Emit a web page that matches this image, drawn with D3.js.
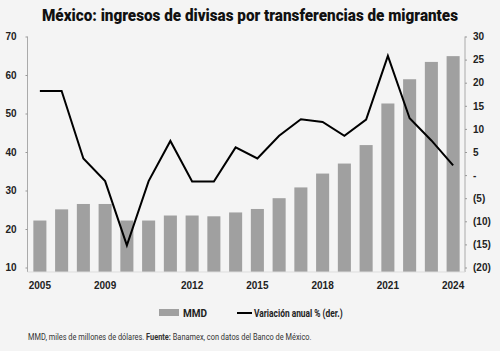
<!DOCTYPE html>
<html>
<head>
<meta charset="utf-8">
<style>
  body { margin: 0; background: #f4f4f4; }
  svg { display: block; background: #f4f4f4; font-family: "Roboto", sans-serif; }
  .title { font-weight: 900; font-size: 16px; fill: #111; }
  .axis text { font-size: 10px; font-weight: 700; fill: #222; }
  .axis line { stroke: #999; }
  .axis path { display: none; }
  .frame { stroke: #aaa; stroke-width: 1; }
  .bar { fill: #a0a0a0; }
  .var-line { fill: none; stroke: #000; stroke-width: 2; }
  .legend text { font-size: 10px; font-weight: 700; fill: #222; }
  .note { font-size: 9.5px; fill: #333; }
</style>
</head>
<body>
<svg width="500" height="351"></svg>
<script src="https://cdn.jsdelivr.net/npm/d3@7/dist/d3.min.js"></script>
<script>

// years shown as bars
var years = [2005, 2006, 2007, 2008, 2009, 2010, 2011, 2012, 2013, 2014,
             2015, 2016, 2017, 2018, 2019, 2020, 2021, 2022, 2023, 2024];

// remittances, MMD (left axis)
var mmd = [22.2, 25.1, 26.5, 26.5, 22.2, 22.2, 23.5, 23.5, 23.3, 24.3,
           25.2, 28.0, 30.8, 34.4, 37.0, 41.8, 52.6, 58.9, 63.4, 64.9];

// annual variation % (right axis)
var variacion = [18.2, 18.2, 3.6, -1.3, -15.2, -1.3, 7.4, -1.4, -1.4, 6.0,
                 3.6, 8.5, 12.1, 11.5, 8.5, 12.0, 25.8, 12.3, 7.5, 2.1];

// tick labels as printed in the source chart
var xTickYears = [2005, 2008, 2012, 2015, 2018, 2021, 2024];
var xTickLabels = ["2005", "2009", "2012", "2015", "2018", "2021", "2024"];
var leftTicks = [10, 20, 30, 40, 50, 60, 70];
var rightTicks = [-20, -15, -10, -5, 0, 5, 10, 15, 20, 25, 30];

var svg = d3.select("svg");

var plotLeft = 27.5, plotRight = 465, plotTop = 36.5, plotBottom = 267.5, base = 272;

var x = d3.scaleBand()
  .domain(years)
  .range([29, 464])
  .paddingInner(0.4)
  .paddingOuter(0.2);

var yL = d3.scaleLinear().domain([10, 70]).range([plotBottom, plotTop]);
var yR = d3.scaleLinear().domain([-20, 30]).range([plotBottom, plotTop]);

// title
svg.append("text")
  .attr("class", "title")
  .attr("x", 250)
  .attr("y", 21)
  .attr("text-anchor", "middle")
  .attr("textLength", 416)
  .attr("lengthAdjust", "spacingAndGlyphs")
  .text("México: ingresos de divisas por transferencias de migrantes");

// bars
svg.append("g").selectAll("rect")
  .data(mmd)
  .join("rect")
  .attr("class", "bar")
  .attr("x", function(d, i) { return x(years[i]); })
  .attr("width", x.bandwidth())
  .attr("y", function(d) { return yL(d); })
  .attr("height", function(d) { return base - yL(d); });

// frame lines
svg.append("line").attr("class", "frame")
  .attr("x1", plotLeft).attr("x2", plotLeft).attr("y1", plotTop).attr("y2", base);
svg.append("line").attr("class", "frame")
  .attr("x1", plotRight).attr("x2", plotRight).attr("y1", plotTop).attr("y2", base);
svg.append("line").attr("class", "frame")
  .attr("x1", plotLeft).attr("x2", plotRight).attr("y1", base).attr("y2", base)
  .style("stroke", "#ddd");

// variation line
var line = d3.line()
  .x(function(d, i) { return x(years[i]) + x.bandwidth() / 2; })
  .y(function(d) { return yR(d); });

svg.append("path")
  .datum(variacion)
  .attr("class", "var-line")
  .attr("d", line);

// axes
svg.append("g")
  .attr("class", "axis")
  .attr("transform", "translate(" + plotLeft + ",0)")
  .call(d3.axisLeft(yL).tickValues(leftTicks).tickSize(2).tickSizeOuter(0).tickPadding(9));

svg.append("g")
  .attr("class", "axis")
  .attr("transform", "translate(" + plotRight + ",0)")
  .call(d3.axisRight(yR).tickValues(rightTicks).tickSize(2).tickSizeOuter(0).tickPadding(6)
    .tickFormat(function(d) {
      if (d === 0) return "-";
      return d < 0 ? "(" + Math.abs(d) + ")" : d;
    }));

svg.append("g")
  .attr("class", "axis")
  .attr("transform", "translate(0," + base + ")")
  .call(d3.axisBottom(x).tickValues(xTickYears).tickSize(0).tickPadding(10)
    .tickFormat(function(d) { return xTickLabels[xTickYears.indexOf(d)]; }));

// legend
var legend = svg.append("g").attr("class", "legend");
legend.append("rect")
  .attr("x", 159).attr("y", 309).attr("width", 20).attr("height", 7)
  .attr("fill", "#a0a0a0");
legend.append("text")
  .attr("x", 183).attr("y", 316.5).text("MMD");
legend.append("line")
  .attr("x1", 237).attr("x2", 252).attr("y1", 313).attr("y2", 313)
  .attr("stroke", "#000").attr("stroke-width", 2);
legend.append("text")
  .attr("transform", "translate(254,316.5) scale(0.84,1)")
  .text("Variación anual % (der.)");

// footnote
var note = svg.append("text")
  .attr("class", "note")
  .attr("transform", "translate(28,340) scale(0.78,1)");
note.append("tspan").text("MMD, miles de millones de dólares. ");
note.append("tspan").attr("font-weight", 700).text("Fuente:");
note.append("tspan").text(" Banamex, con datos del Banco de México.");

</script>
</body>
</html>
